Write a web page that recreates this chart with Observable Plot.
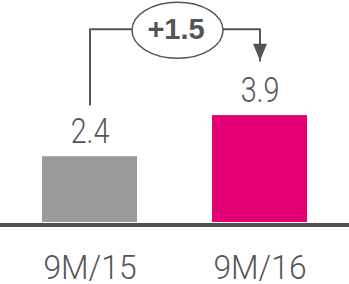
<!DOCTYPE html>
<html>
<head>
<meta charset="utf-8">
<script src="https://cdn.jsdelivr.net/npm/d3@7"></script>
<script src="https://cdn.jsdelivr.net/npm/@observablehq/plot@0.6"></script>
<style>
  html, body { margin: 0; padding: 0; background: #fff; }
</style>
</head>
<body>
<div id="chart"></div>
<script>
const categories = ["9M/15", "9M/16"];
const values = [2.4, 3.9];
const colors = ["#9a9a9a", "#e20074"];
const deltaLabel = "+1.5";
// annotation bracket levels (in value units)
const bracketStart = 4.3;
const bracketTop = 7.05;
const bracketEnd = 5.9;

const data = categories.map((c, i) => ({cat: c, value: values[i], color: colors[i]}));
const bracket = [
  {x: categories[0], y: bracketStart},
  {x: categories[0], y: bracketTop},
  {x: categories[1], y: bracketTop},
  {x: categories[1], y: bracketEnd}
];

const FONT = "Roboto, 'Liberation Sans', sans-serif";
const BOLDFONT = "'Liberation Sans', Arial, sans-serif";
const INK = "#555";

const arrowHead = {
  draw(ctx) {
    ctx.moveTo(-7, -17);
    ctx.lineTo(7, -17);
    ctx.lineTo(0, 0);
    ctx.closePath();
  }
};
const ellipseSym = {
  draw(ctx) {
    const rx = 45.5, ry = 28, k = 0.5523;
    ctx.moveTo(rx, 0);
    ctx.bezierCurveTo(rx, ry * k, rx * k, ry, 0, ry);
    ctx.bezierCurveTo(-rx * k, ry, -rx, ry * k, -rx, 0);
    ctx.bezierCurveTo(-rx, -ry * k, -rx * k, -ry, 0, -ry);
    ctx.bezierCurveTo(rx * k, -ry, rx, -ry * k, rx, 0);
    ctx.closePath();
  }
};

const chart = Plot.plot({
  width: 349,
  height: 284,
  marginTop: 0,
  marginBottom: 62,
  marginLeft: 0,
  marginRight: 0,
  style: {fontFamily: FONT, color: INK, background: "#fff"},
  x: {domain: categories, paddingInner: 0.439, paddingOuter: 0.24, axis: null},
  y: {domain: [0, 8.1], axis: null},
  marks: [
    Plot.barY(data, {x: "cat", y: "value", fill: "color"}),
    Plot.ruleY([0], {stroke: "#505050", strokeWidth: 4, dy: 2.5}),
    Plot.text(data, {x: "cat", y: "value", text: d => d.value.toFixed(1), lineAnchor: "bottom", dy: -13.5, fontSize: 35, fontWeight: 300, fill: INK, fontFamily: FONT, className: "vlabel"}),
    Plot.axisX({tickSize: 0, tickPadding: 33, fontSize: 33.5, fontWeight: 300, fontFamily: FONT, color: INK, className: "xlabel"}),
    Plot.line(bracket, {x: "x", y: "y", stroke: INK, strokeWidth: 2}),
    Plot.dot([bracket[3]], {x: "x", y: "y", symbol: arrowHead, fill: INK, stroke: null}),
    Plot.dot([bracketTop], {y: d => d, symbol: ellipseSym, fill: "#fff", stroke: INK, strokeWidth: 1.5, dx: 2.5, dy: 1}),
    Plot.text([deltaLabel], {y: () => bracketTop, text: d => d, fontSize: 29, fontWeight: "bold", fill: INK, fontFamily: BOLDFONT, dx: 1, dy: 0})
  ]
});
document.getElementById("chart").appendChild(chart);

// condense the light labels to the narrow look of the original typeface
function condense(selector, factor) {
  chart.querySelectorAll(selector).forEach(t => {
    const w = t.getComputedTextLength();
    t.setAttribute("textLength", (w * factor).toFixed(1));
    t.setAttribute("lengthAdjust", "spacingAndGlyphs");
  });
}
condense(".vlabel text", 0.82);
condense(".xlabel text", 0.95);
</script>
</body>
</html>
